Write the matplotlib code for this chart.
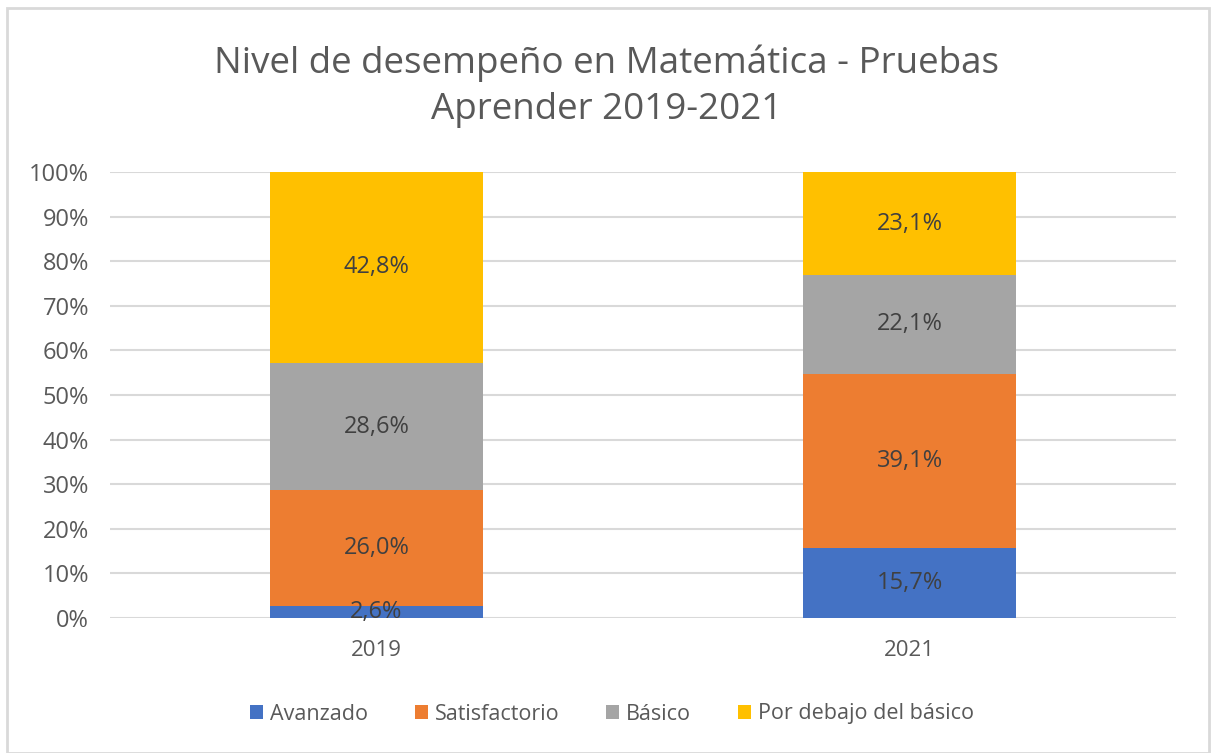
import matplotlib
matplotlib.use("Agg")
import matplotlib.pyplot as plt
from matplotlib.patches import Rectangle
import numpy as np

plt.rcParams['font.family'] = ['Open Sans', 'DejaVu Sans']

years = ["2019", "2021"]
series = ["Avanzado", "Satisfactorio", "Básico", "Por debajo del básico"]
avanzado = [2.6, 15.7]
satisfactorio = [26.0, 39.1]
basico = [28.6, 22.1]
por_debajo = [42.8, 23.1]
colors = ["#4472C4", "#ED7D31", "#A5A5A5", "#FFC000"]
yticks = [0, 10, 20, 30, 40, 50, 60, 70, 80, 90, 100]

fig = plt.figure(figsize=(12.14, 7.53), dpi=100)
ax = fig.add_axes([110/1214, 1-618/753, (1176-110)/1214, (618-172)/753])

x = np.arange(len(years))
bottom = np.zeros(len(years))
for name, vals, c in zip(series, [avanzado, satisfactorio, basico, por_debajo], colors):
    vals = np.array(vals)
    ax.bar(x, vals, 0.4, bottom=bottom, color=c, label=name, zorder=3)
    for xi, b, v in zip(x, bottom, vals):
        ax.text(xi, b + v/2, f"{v:.1f}%".replace(".", ","), ha="center", va="center",
                fontsize=17, color="#404040", zorder=4)
    bottom += vals

ax.set_xlim(-0.5, 1.5)
ax.set_ylim(0, 100)
ax.set_yticks(yticks)
ax.set_yticklabels([f"{t}%" for t in yticks])
ax.set_xticks(x)
ax.set_xticklabels(years)
ax.tick_params(axis="y", length=0, labelsize=17, colors="#595959", pad=15)
ax.tick_params(axis="x", length=0, labelsize=16, colors="#595959", pad=16)
ax.grid(axis="y", color="#d9d9d9", linewidth=1.5, zorder=0)
for s in ax.spines.values():
    s.set_visible(False)

fig.text(607/1214, 1-63/753, "Nivel de desempeño en Matemática - Pruebas", ha="center", va="center",
         fontsize=26.5, color="#595959")
fig.text(607/1214, 1-110/753, "Aprender 2019-2021", ha="center", va="center",
         fontsize=26.5, color="#595959")

leg = fig.legend(loc="center", bbox_to_anchor=(612/1214, 1-714/753), ncol=4, frameon=False,
                 fontsize=15.5, handlelength=0.6, handleheight=0.6, handletextpad=0.3,
                 columnspacing=2.2, labelcolor="#595959")

fig.patches.append(Rectangle((7/1214, 0), (1209-7)/1214, (753-8)/753, transform=fig.transFigure,
                             fill=False, edgecolor="#d9d9d9", linewidth=2))

fig.savefig("out.png", dpi=100)
